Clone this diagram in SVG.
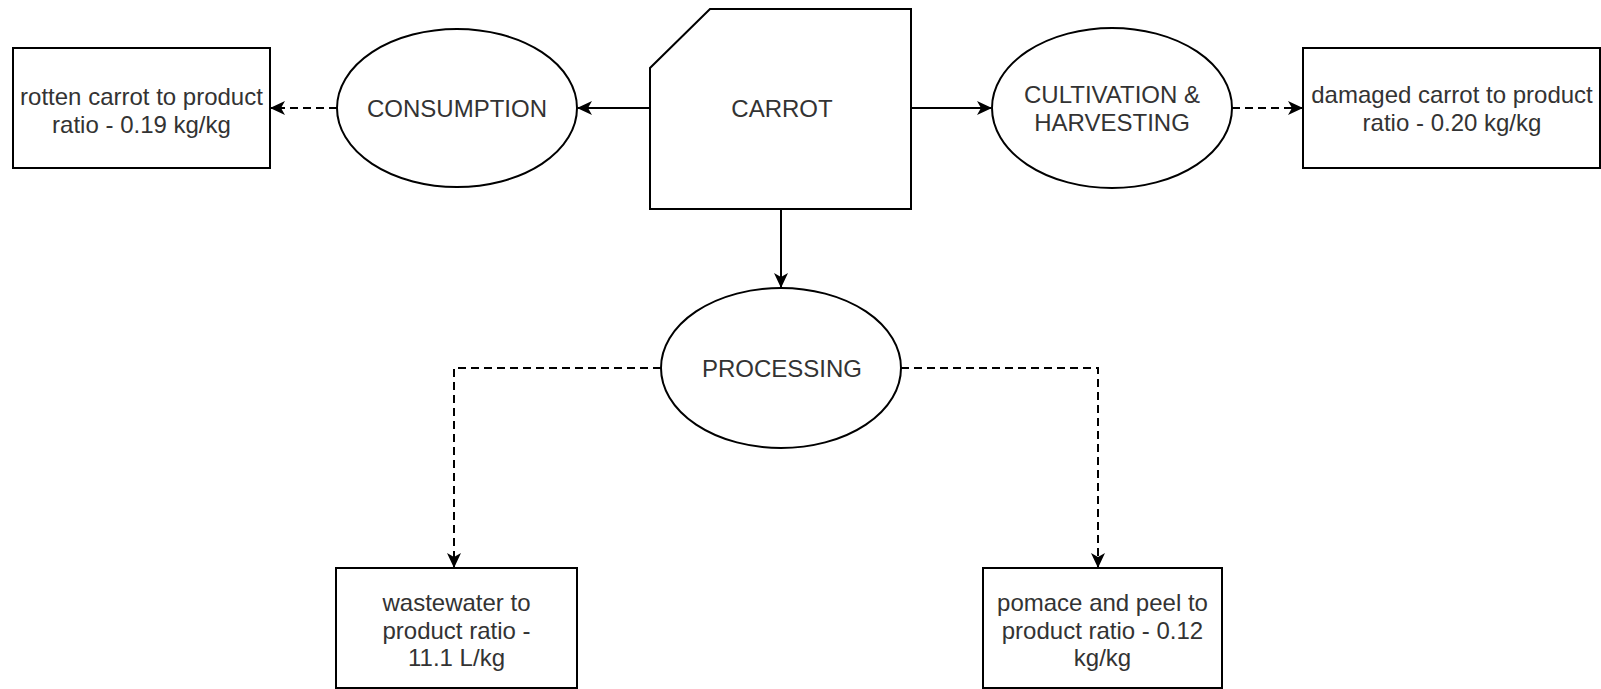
<svg xmlns="http://www.w3.org/2000/svg" width="1601" height="689" viewBox="0 0 1601 689">
<style>
.shape{fill:#fff;stroke:#000;stroke-width:2}
.t{font-family:"Liberation Sans",Arial,sans-serif;font-size:24px;fill:#333;text-anchor:middle}
.c{fill:none;stroke:#000;stroke-width:2}
.d{stroke-dasharray:8 5}
</style>
<defs>
<marker id="arr" markerUnits="userSpaceOnUse" viewBox="0 0 15 14" refX="14" refY="7" markerWidth="15" markerHeight="14" orient="auto">
<path d="M15,7 L0,0 L4,7 L0,14 Z" fill="#000"/>
</marker>
</defs>
<rect width="1601" height="689" fill="#fff"/>
<g id="connectors">
<path class="c" d="M650,108 L578,108" marker-end="url(#arr)"/>
<path class="c d" d="M337,108 L271,108" marker-end="url(#arr)"/>
<path class="c" d="M911,108 L991,108" marker-end="url(#arr)"/>
<path class="c d" d="M1232,108 L1302,108" marker-end="url(#arr)"/>
<path class="c" d="M781,209 L781,287" marker-end="url(#arr)"/>
<path class="c d" d="M661,368 L454,368 L454,567" marker-end="url(#arr)"/>
<path class="c d" d="M901,368 L1098,368 L1098,567" marker-end="url(#arr)"/>
</g>
<g id="carrot">
<path class="shape" d="M710,9 L911,9 L911,209 L650,209 L650,68 Z"/>
<text class="t" x="782" y="117">CARROT</text>
</g>
<g id="consumption">
<ellipse class="shape" cx="457" cy="108" rx="120" ry="79"/>
<text class="t" x="457" y="117">CONSUMPTION</text>
</g>
<g id="cultivation">
<ellipse class="shape" cx="1112" cy="108" rx="120" ry="80"/>
<text class="t" x="1112" y="103">CULTIVATION &amp;</text>
<text class="t" x="1112" y="131">HARVESTING</text>
</g>
<g id="processing">
<ellipse class="shape" cx="781" cy="368" rx="120" ry="80"/>
<text class="t" x="782" y="377">PROCESSING</text>
</g>
<g id="rotten">
<rect class="shape" x="13" y="48" width="257" height="120"/>
<text class="t" x="141.5" y="105">rotten carrot to product</text>
<text class="t" x="141.5" y="133">ratio - 0.19 kg/kg</text>
</g>
<g id="damaged">
<rect class="shape" x="1303" y="48" width="297" height="120"/>
<text class="t" x="1452" y="103">damaged carrot to product</text>
<text class="t" x="1452" y="131">ratio - 0.20 kg/kg</text>
</g>
<g id="wastewater">
<rect class="shape" x="336" y="568" width="241" height="120"/>
<text class="t" x="456.5" y="611">wastewater to</text>
<text class="t" x="456.5" y="639">product ratio -</text>
<text class="t" x="456.5" y="666">11.1 L/kg</text>
</g>
<g id="pomace">
<rect class="shape" x="983" y="568" width="239" height="120"/>
<text class="t" x="1102.5" y="611">pomace and peel to</text>
<text class="t" x="1102.5" y="639">product ratio - 0.12</text>
<text class="t" x="1102.5" y="666">kg/kg</text>
</g>
</svg>
